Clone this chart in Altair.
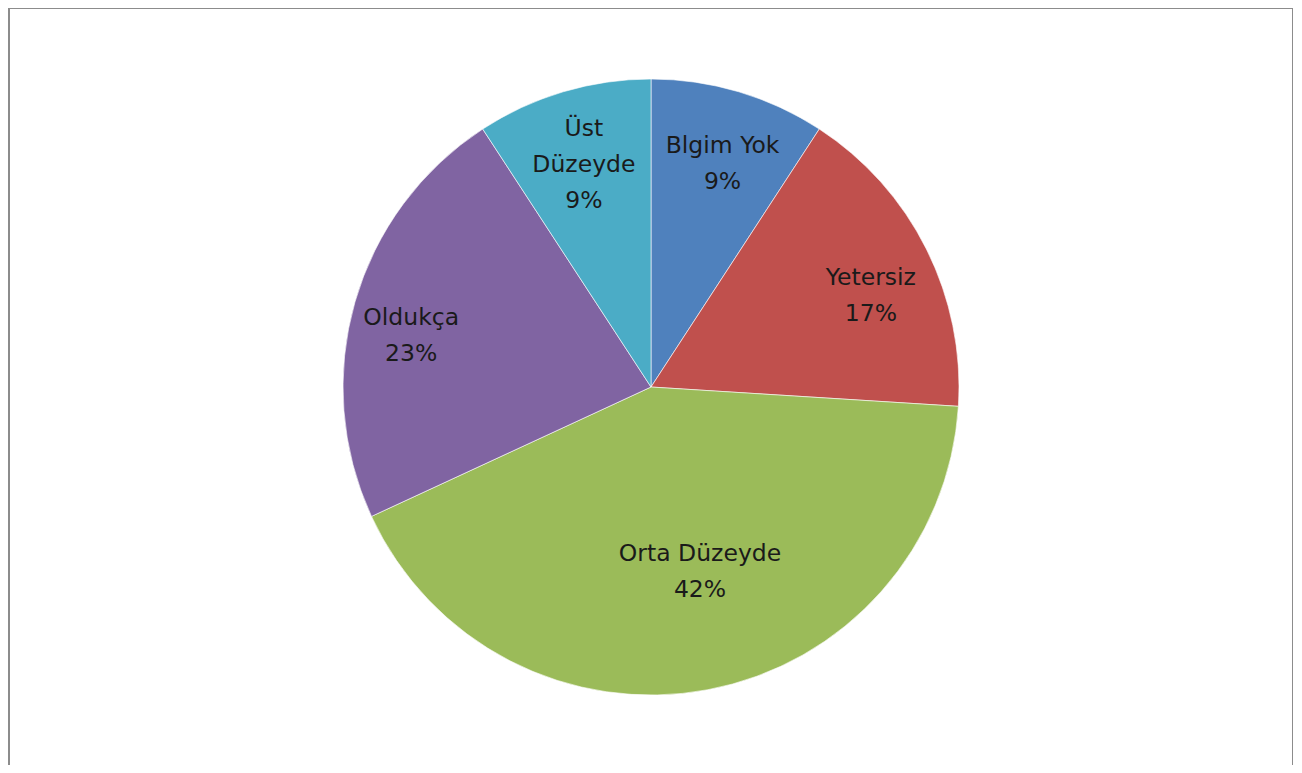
import altair as alt
import pandas as pd

categories = ["Blgim Yok", "Yetersiz", "Orta Düzeyde", "Oldukça", "Üst Düzeyde"]
label_names = ["Blgim Yok", "Yetersiz", "Orta Düzeyde", "Oldukça", "Üst\nDüzeyde"]
values = [9.2, 16.8, 42.1, 22.7, 9.2]
colors = ["#4F81BD", "#C0504D", "#9BBB59", "#8064A2", "#4BACC6"]

df = pd.DataFrame({
    "cat": categories,
    "name": label_names,
    "value": values,
    "idx": list(range(len(categories))),
})
total = float(sum(values))

W, H = 1285, 757
CX, CY = 643, 379
R = 308
LH = 36
FS = 23.5

# label placement (style, not data): radius, dx, dy per slice
label_style = {
    "Blgim Yok": (237, 4, -14),
    "Yetersiz": (237, 8, -3),
    "Orta Düzeyde": (190, 14, -20),
    "Oldukça": (237, -12, -4),
    "Üst Düzeyde": (232, -1, -36),
}

theta_scale = alt.Scale(domain=[0, total])

arcs = alt.Chart(df).mark_arc(
    radius=R, stroke="white", strokeWidth=1, strokeOpacity=0.6
).encode(
    theta=alt.Theta("value:Q", stack=True, scale=theta_scale),
    order=alt.Order("idx:Q"),
    color=alt.Color("cat:N", scale=alt.Scale(domain=categories, range=colors), legend=None),
    x=alt.value(CX),
    y=alt.value(CY),
)


def text_layer(cat, radius, dx, dy):
    return alt.Chart(df).transform_window(
        cum="sum(value)", sort=[alt.SortField("idx")]
    ).transform_calculate(
        mid="datum.cum - datum.value / 2",
        label="datum.name + '\\n' + round(datum.value) + '%'",
    ).transform_filter(alt.datum.cat == cat).mark_text(
        font="DejaVu Sans", fontSize=FS, lineBreak="\n", lineHeight=LH,
        align="center", baseline="middle", color="#1a1a1a",
        radius=radius, dx=dx, dy=dy,
    ).encode(
        theta=alt.Theta("mid:Q", stack=None, scale=theta_scale),
        text="label:N",
        x=alt.value(CX),
        y=alt.value(CY),
    )


label_layers = [text_layer(c, *label_style[c]) for c in categories]

border_left = alt.Chart(df).mark_rule(color="#8c8c8c", strokeWidth=2).encode(
    x=alt.value(1), y=alt.value(0), y2=alt.value(H))
border_right = alt.Chart(df).mark_rule(color="#8c8c8c", strokeWidth=2).encode(
    x=alt.value(W), y=alt.value(0), y2=alt.value(H))
border_top = alt.Chart(df).mark_rule(color="#8c8c8c", strokeWidth=2).encode(
    x=alt.value(0), x2=alt.value(W), y=alt.value(0))

chart = alt.layer(
    arcs, *label_layers, border_left, border_right, border_top
).properties(
    width=W, height=H, padding=0,
    autosize=alt.AutoSizeParams(type="none"),
).configure_view(stroke=None)

chart.save("out.html", embed_options={"renderer": "svg", "actions": False})
